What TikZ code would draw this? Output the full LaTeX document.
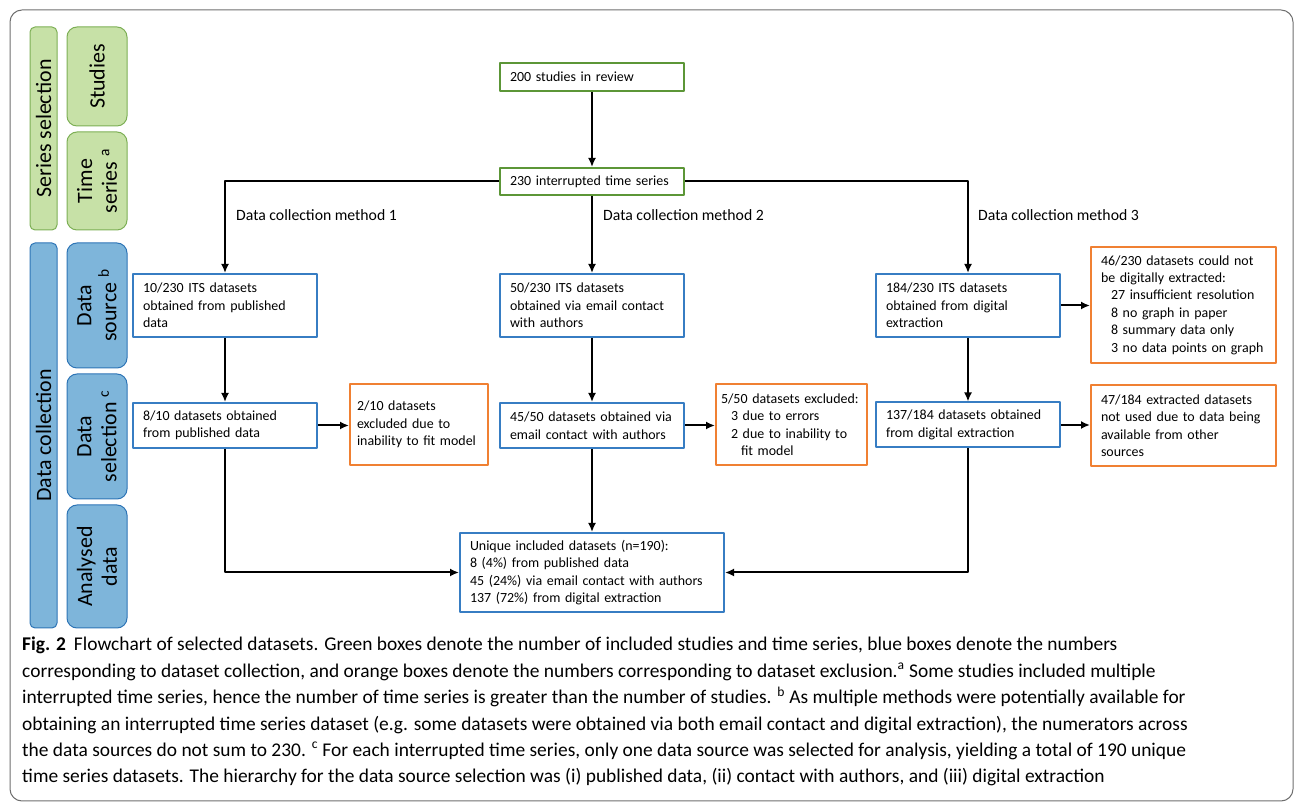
\documentclass[tikz,border=0pt]{standalone}
\usepackage{fontspec}
\setmainfont{Carlito}
\usetikzlibrary{arrows.meta}
\definecolor{barGreen}{RGB}{199,225,167}
\definecolor{barGreenLine}{RGB}{125,175,85}
\definecolor{barBlue}{RGB}{126,181,218}
\definecolor{barBlueLine}{RGB}{46,117,182}
\definecolor{boxGreen}{RGB}{92,150,55}
\definecolor{boxBlue}{RGB}{55,125,195}
\definecolor{boxOrange}{RGB}{240,128,50}
\definecolor{frameGray}{RGB}{110,110,110}
\begin{document}
\begin{tikzpicture}[>={Latex[length=9bp,width=8bp]},line join=bevel,
  flowbox/.style={draw,line width=2bp,inner xsep=10bp,inner ysep=0bp,align=left,
    font=\fontsize{14}{17.5}\selectfont},
  greenbox/.style={flowbox,draw=boxGreen},
  bluebox/.style={flowbox,draw=boxBlue},
  orangebox/.style={flowbox,draw=boxOrange},
  sidebar/.style={rotate=90,line width=1bp,align=center,inner sep=0bp,
    font=\fontsize{22}{25}\selectfont},
  greenbar/.style={sidebar,draw=barGreenLine,fill=barGreen},
  bluebar/.style={sidebar,draw=barBlueLine,fill=barBlue},
  method/.style={anchor=west,inner sep=0bp,font=\fontsize{15.8}{19}\selectfont},
  link/.style={black,line width=2bp,->},
]
%%
\useasboundingbox (0bp,0bp) rectangle (1295bp,803bp);
\draw [frameGray,line width=1bp,rounded corners=12bp] (10bp,2bp) rectangle (1293bp,793bp);
%% side bars
\node (bar_series) at (43.5bp,674.5bp) [greenbar,rounded corners=5bp,minimum width=203bp,minimum height=27bp] {Series selection};
\node (bar_studies) at (97bp,726.5bp) [greenbar,rounded corners=10bp,minimum width=99bp,minimum height=60bp] {Studies};
\node (bar_time) at (97bp,622bp) [greenbar,rounded corners=10bp,minimum width=98bp,minimum height=60bp] {Time\\series \textsuperscript{a}};
\node (bar_collection) at (43.5bp,367.5bp) [bluebar,rounded corners=5bp,minimum width=385bp,minimum height=27bp] {Data collection};
\node (bar_source) at (97bp,497.5bp) [bluebar,rounded corners=10bp,minimum width=125bp,minimum height=60bp] {Data\\source \textsuperscript{b}};
\node (bar_selection) at (97bp,366.5bp) [bluebar,rounded corners=10bp,minimum width=125bp,minimum height=60bp] {Data\\selection \textsuperscript{c}};
\node (bar_analysed) at (97bp,236.5bp) [bluebar,rounded corners=10bp,minimum width=123bp,minimum height=60bp] {Analysed\\data};
%% flow
\node (node_200) at (592bp,726bp) [greenbox,text width=164bp,minimum height=28bp] {200 studies in review};
\node (node_230) at (592bp,621.5bp) [greenbox,text width=164bp,minimum height=27bp] {230 interrupted time series};
\node (node_src1) at (225bp,497.5bp) [bluebox,text width=164bp,minimum height=63bp] {10/230 ITS datasets\\obtained from published\\data};
\node (node_src2) at (592bp,497.5bp) [bluebox,text width=164bp,minimum height=63bp] {50/230 ITS datasets\\obtained via email contact\\with authors};
\node (node_src3) at (968bp,497.5bp) [bluebox,text width=164bp,minimum height=63bp] {184/230 ITS datasets\\obtained from digital\\extraction};
\node (node_excl3a) at (1183.5bp,498bp) [orangebox,text width=165bp,minimum height=116bp] {46/230 datasets could not\\be digitally extracted:\\\hspace*{10bp}27 insufficient resolution\\\hspace*{10bp}8 no graph in paper\\\hspace*{10bp}8 summary data only\\\hspace*{10bp}3 no data points on graph};
\node (node_sel1) at (225bp,377.5bp) [bluebox,text width=164bp,minimum height=45bp] {8/10 datasets obtained\\from published data};
\node (node_excl1) at (419bp,378.5bp) [orangebox,text width=124bp,minimum height=81bp,inner xsep=7bp] {2/10 datasets\\excluded due to\\inability to fit model};
\node (node_sel2) at (592bp,377.5bp) [bluebox,text width=164bp,minimum height=45bp] {45/50 datasets obtained via\\email contact with authors};
\node (node_excl2) at (791.5bp,378.5bp) [orangebox,text width=141bp,minimum height=81bp,inner xsep=5bp] {5/50 datasets excluded:\\\hspace*{10bp}3 due to errors\\\hspace*{10bp}2 due to inability to\\\hspace*{20bp}fit model};
\node (node_sel3) at (968bp,378bp) [bluebox,text width=164bp,minimum height=45bp] {137/184 datasets obtained\\from digital extraction};
\node (node_excl3b) at (1183.5bp,377.5bp) [orangebox,text width=165bp,minimum height=81bp] {47/184 extracted datasets\\not used due to data being\\available from other\\sources};
\node (node_final) at (592bp,230.5bp) [bluebox,text width=244bp,minimum height=79bp] {Unique included datasets (n=190):\\8 (4\%) from published data\\45 (24\%) via email contact with authors\\137 (72\%) from digital extraction};
%% method labels
\node (lab_m1) at (236bp,588bp) [method] {Data collection method 1};
\node (lab_m2) at (603bp,588bp) [method] {Data collection method 2};
\node (lab_m3) at (978bp,588bp) [method] {Data collection method 3};
%% arrows
\draw [link] (node_200) -- (node_230);
\draw [link] (node_230.west) -| (node_src1.north);
\draw [link] (node_230) -- (node_src2);
\draw [link] (node_230.east) -| (node_src3.north);
\draw [link] (node_src1) -- (node_sel1);
\draw [link] (node_src2) -- (node_sel2);
\draw [link] (node_src3) -- (node_sel3);
\draw [link] (node_src3.east) -- (node_src3.east -| node_excl3a.west);
\draw [link] (node_sel1.east) -- (node_sel1.east -| node_excl1.west);
\draw [link] (node_sel2.east) -- (node_sel2.east -| node_excl2.west);
\draw [link] (node_sel3.east) -- (node_sel3.east -| node_excl3b.west);
\draw [link] (node_sel1.south) |- (node_final.west);
\draw [link] (node_sel2) -- (node_final);
\draw [link] (node_sel3.south) |- (node_final.east);
%% caption
\node (caption) at (22bp,166bp) [anchor=north west,inner sep=0bp,align=left,font=\fontsize{19.5}{26.5}\selectfont] {%
\textbf{Fig. 2}\hspace{8bp}Flowchart of selected datasets. Green boxes denote the number of included studies and time series, blue boxes denote the numbers\\
corresponding to dataset collection, and orange boxes denote the numbers corresponding to dataset exclusion.\textsuperscript{a} Some studies included multiple\\
interrupted time series, hence the number of time series is greater than the number of studies. \textsuperscript{b} As multiple methods were potentially available for\\
obtaining an interrupted time series dataset (e.g. some datasets were obtained via both email contact and digital extraction), the numerators across\\
the data sources do not sum to 230. \textsuperscript{c} For each interrupted time series, only one data source was selected for analysis, yielding a total of 190 unique\\
time series datasets. The hierarchy for the data source selection was (i) published data, (ii) contact with authors, and (iii) digital extraction};
%
\end{tikzpicture}
\end{document}
